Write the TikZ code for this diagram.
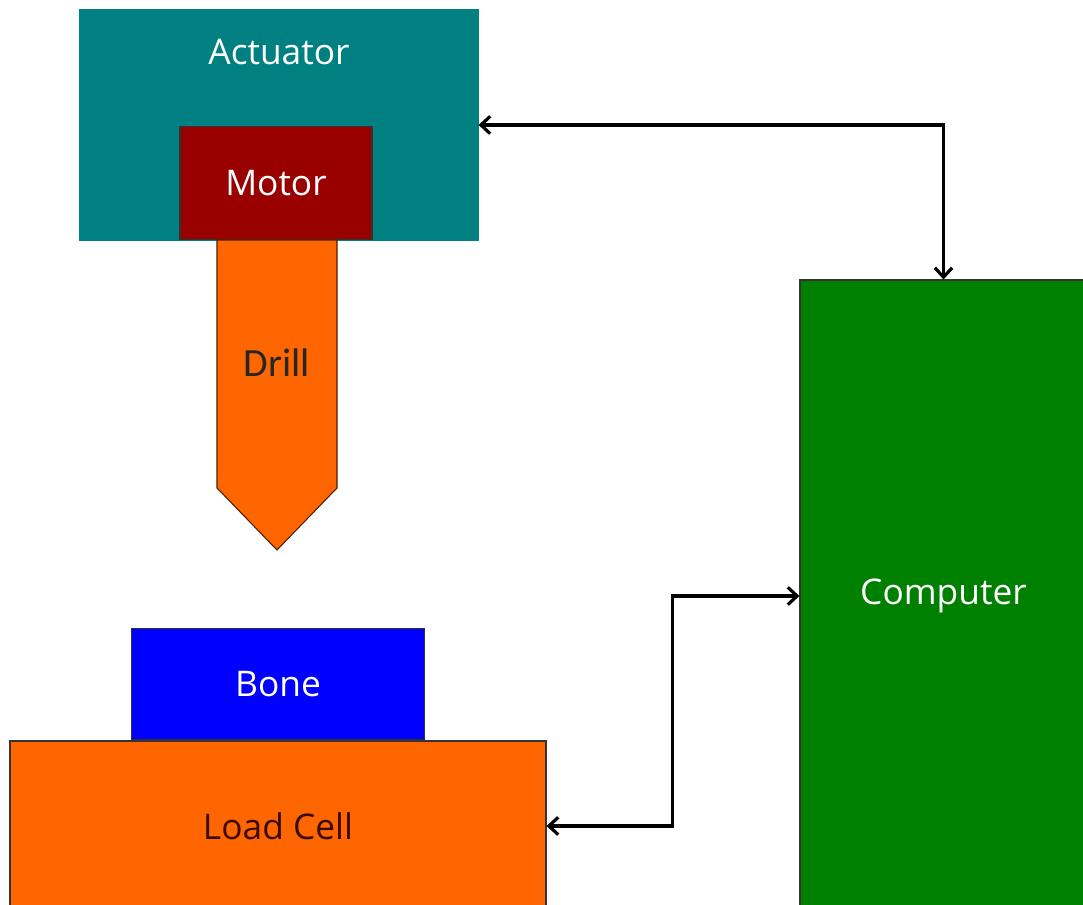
\documentclass[tikz,border=0pt]{standalone}
\usepackage{fontspec}
\setmainfont{Open Sans}
\newfontfamily\drillfont{Carlito}
\usetikzlibrary{positioning,arrows.meta}
\definecolor{actteal}{HTML}{008080}
\definecolor{motorred}{HTML}{990000}
\definecolor{drillorange}{HTML}{FF6600}
\definecolor{boneblue}{HTML}{0000FF}
\definecolor{compgreen}{HTML}{008000}
\definecolor{celltext}{HTML}{3A0A00}
\begin{document}
\begin{tikzpicture}[x=0.75pt, y=-0.75pt, font=\fontsize{26.5}{30}\selectfont,
  part/.style={draw=black!80, line width=0.8pt, inner sep=0pt, text=white},
  link/.style={{Straight Barb[length=7pt,width=13pt]}-{Straight Barb[length=7pt,width=13pt]}, line width=2.4pt}]
\useasboundingbox (0,0) rectangle (1083,905);
\node[part, draw=actteal, fill=actteal, minimum width=298.5pt, minimum height=172.5pt] (act) at (279,125) {};
\node[text=white] (actlabel) at (279,52) {Actuator};
\node[part, fill=motorred, minimum width=144pt, minimum height=84.75pt, anchor=south] (motor) at (276,240) {Motor};
\draw[draw=black!70!drillorange, line width=0.8pt, fill=drillorange] (217,240) -- (337,240) -- (337,488) -- (277,550) -- (217,488) -- cycle;
\node[font=\drillfont\fontsize{30}{34}\selectfont, text=black!85] (drill) at (277,363) {Drill};
\node[part, fill=drillorange, text=celltext, minimum width=402pt, minimum height=127.5pt] (load) at (278,826) {Load Cell};
\node[part, fill=boneblue, minimum width=219.75pt, minimum height=83.25pt, above=0pt of load] (bone) {Bone};
\node[part, fill=compgreen, minimum width=215.25pt, minimum height=474pt] (comp) at (943.5,596) {Computer};
\draw[link] (act.east) -| (comp.north);
\draw[link] (load.east) -- ++(126,0) |- (comp.west);
\end{tikzpicture}
\end{document}
